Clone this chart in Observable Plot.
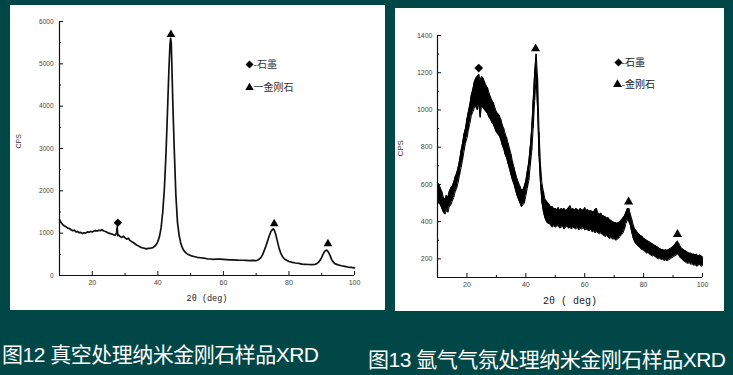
<!DOCTYPE html>
<html><head><meta charset="utf-8">
<script src="https://cdn.jsdelivr.net/npm/d3@7"></script>
<script src="https://cdn.jsdelivr.net/npm/@observablehq/plot@0.6"></script>
<style>
html,body{margin:0;padding:0;}
body{width:733px;height:375px;background:#014747;position:relative;overflow:hidden;font-family:"Liberation Sans","Noto Sans CJK SC",sans-serif;}
.panel{position:absolute;background:#fff;}
#p1{left:10px;top:5px;width:375px;height:305px;}
#p2{left:395px;top:8px;width:329px;height:303px;}
.cap{position:absolute;color:#fff;font-size:21px;letter-spacing:-0.5px;white-space:nowrap;line-height:1;font-family:"Liberation Sans","Noto Sans CJK SC",sans-serif;}
#c1{left:2px;top:344px;}
#c2{left:368px;top:349px;}
</style></head>
<body>
<div class="panel" id="p1"></div>
<div class="panel" id="p2"></div>
<div class="cap" id="c1"></div>
<div class="cap" id="c2"></div>
<script>
// ---------- data: chart 1 (vacuum) ----------
const theta1 = [10,10.5,11,11.5,12,12.5,13,13.5,14,14.5,15,15.5,16,16.5,17,17.5,18,18.5,19,19.5,20,20.5,21,21.5,22,22.5,23,23.5,24,24.5,25,25.5,26,26.5,27,27.4,27.6,27.8,28,28.5,29,29.5,30,30.5,31,31.5,32,32.5,33,33.5,34,34.5,35,35.5,36,36.5,37,37.5,38,38.5,39,39.5,40,40.5,41,41.5,42,42.5,43,43.4,43.7,43.9,44.1,44.3,44.6,45,45.5,46,46.5,47,47.5,48,48.5,49,49.5,50,51,52,53,54,55,56,57,58,59,60,61,62,63,64,65,66,67,68,69,70,70.5,71,71.5,72,72.5,73,73.5,74,74.5,75,75.3,75.6,76,76.5,77,77.5,78,78.5,79,80,81,82,83,84,85,86,87,88,88.5,89,89.5,90,90.5,91,91.5,92,92.5,93,93.5,94,95,96,97,98,99,100];
const cps1 = [1320,1250,1200,1170,1150,1120,1110,1080,1060,1070,1030,1040,1010,1020,990,1010,1000,1030,1020,1040,1030,1050,1060,1050,1070,1060,1080,1050,1040,1020,1000,990,980,960,950,1000,1150,940,960,920,900,930,890,860,880,830,800,780,750,720,700,680,660,650,640,630,640,640,650,660,690,730,800,920,1130,1500,2050,2900,4000,4900,5450,5600,5500,4900,4000,3000,1900,1250,950,760,650,580,540,510,490,470,450,430,420,410,395,390,380,390,385,380,375,370,370,365,360,360,355,350,355,350,365,390,430,500,600,700,820,940,1040,1090,1100,1060,960,800,640,530,450,400,370,330,310,295,285,270,265,260,255,265,280,310,360,430,520,580,600,560,480,380,320,280,250,230,215,200,190,180];
const graphite1Theta = [27.8];
const graphite1Cps = [1245];
const diamond1Theta = [44.0, 75.5, 91.9];
const diamond1Cps = [5693, 1221, 749];
const xDomain1 = [10, 100];
const yDomain1 = [0, 6000];
const xMajor1 = [20, 40, 60, 80, 100];
const xMinor1 = [30, 50, 70, 90];
const yMajor1 = [0, 1000, 2000, 3000, 4000, 5000, 6000];
const yMinor1 = [500, 1500, 2500, 3500, 4500, 5500];

// ---------- data: chart 2 (argon) ----------
const theta2 = [
 10,10.5,11,11.5,12,12.5,13,13.5,14,14.5,
 15,15.5,16,16.5,17,17.5,18,18.5,19,19.5,
 20,20.5,21,21.5,22,22.5,23,23.5,24,24.5,
 25,25.5,26,26.5,27,27.5,28,28.5,29,29.5,
 30,30.5,31,31.5,32,32.5,33,33.5,34,34.5,
 35,35.5,36,36.5,37,37.5,38,38.5,39,39.5,
 40,40.5,41,41.5,42,42.5,43,43.5,44,44.5,
 45,45.5,46,46.5,47,47.5,48,48.5,49,49.5,
 50,50.5,51,51.5,52,52.5,53,53.5,54,54.5,
 55,55.5,56,56.5,57,57.5,58,58.5,59,59.5,
 60,60.5,61,61.5,62,62.5,63,63.5,64,64.5,
 65,65.5,66,66.5,67,67.5,68,68.5,69,69.5,
 70,70.5,71,71.5,72,72.5,73,73.5,74,74.5,
 75,75.5,76,76.5,77,77.5,78,78.5,79,79.5,
 80,80.5,81,81.5,82,82.5,83,83.5,84,84.5,
 85,85.5,86,86.5,87,87.5,88,88.5,89,89.5,
 90,90.5,91,91.5,92,92.5,93,93.5,94,94.5,
 95,95.5,96,96.5,97,97.5,98,98.5,99,99.5,
 100];
const low2 = [
 520,500,490,470,450,440,460,450,480,490,
 510,530,560,580,610,650,690,730,780,820,
 850,890,930,970,990,1010,1020,1000,1040,960,
 1030,1010,1000,990,980,960,950,930,920,900,
 880,870,860,840,810,790,760,740,710,680,
 650,620,600,570,540,520,500,480,490,500,
 540,580,620,700,780,900,1050,1180,1000,750,
 600,500,450,420,400,390,390,380,370,380,
 370,375,380,365,370,375,360,370,375,365,
 370,360,370,365,360,370,355,365,360,370,
 355,360,355,350,360,345,350,340,345,340,
 335,340,330,325,320,325,315,310,315,305,
 310,300,305,310,320,330,340,360,390,410,
 400,380,340,310,290,280,270,265,255,250,
 245,240,230,235,225,220,215,220,210,205,
 200,205,195,200,190,195,190,195,200,205,
 210,215,220,225,220,205,200,190,185,180,
 175,180,170,175,165,170,160,165,170,160,
 165];
const high2 = [
 610,600,580,560,530,520,540,530,560,580,
 590,610,640,660,690,730,780,820,870,900,
 950,990,1030,1080,1110,1150,1170,1180,1190,1160,
 1180,1170,1150,1130,1120,1090,1070,1050,1040,1010,
 990,980,970,950,920,900,870,850,820,790,
 760,720,690,660,630,610,590,570,570,590,
 620,670,720,800,900,1050,1200,1300,1170,880,
 700,600,560,520,510,500,490,480,480,470,
 470,465,475,460,470,465,470,460,465,475,
 485,465,470,460,470,465,460,470,465,460,
 475,460,465,455,460,455,450,465,470,445,
 440,445,430,430,425,420,420,410,405,400,
 395,395,390,395,400,410,420,430,450,470,
 470,440,410,380,360,350,340,330,325,320,
 310,305,300,295,290,285,280,275,270,265,
 260,255,250,250,245,250,245,250,255,260,
 265,275,285,295,280,265,255,250,245,240,
 235,230,230,225,225,220,225,215,220,215,
 210];
const graphite2Theta = [24.0];
const graphite2Cps = [1225];
const diamond2Theta = [43.3, 74.9, 91.5];
const diamond2Cps = [1329, 507, 332];
const xDomain2 = [10, 100];
const yDomain2 = [100, 1400];
const xMajor2 = [20, 40, 60, 80, 100];
const xMinor2 = [30, 50, 70, 90];
const yMajor2 = [200, 400, 600, 800, 1000, 1200, 1400];
const yMinor2 = [300, 500, 700, 900, 1100, 1300];

// ---------- texts ----------
const yTitle = "CPS";
const xTitle1 = "2θ (deg)";
const xTitle2 = "2θ ( deg)";
const legend1 = ["-石墨", "一金刚石"];
const legend2 = ["-石墨", "-金刚石"];
const caption1 = "图12 真空处理纳米金刚石样品XRD";
const caption2 = "图13 氩气气氛处理纳米金刚石样品XRD";

function axesMarks(cfg) {
  const pw = cfg.width - cfg.ml - cfg.mr;
  const ph = cfg.height - cfg.mt - cfg.mb;
  return [
    Plot.ruleX([cfg.xDomain[0]], {stroke: "#111", strokeWidth: 1.2}),
    Plot.ruleY([cfg.yDomain[0]], {stroke: "#111", strokeWidth: 1.2}),
    Plot.tickX(cfg.xMajor, {x: d => d, insetTop: ph - 4, stroke: "#111"}),
    Plot.tickX(cfg.xMinor, {x: d => d, insetTop: ph - 2, stroke: "#111"}),
    Plot.tickY(cfg.yMajor, {y: d => d, insetRight: pw - 4, stroke: "#111"}),
    Plot.tickY(cfg.yMinor, {y: d => d, insetRight: pw - 2, stroke: "#111"}),
    Plot.axisX({ticks: cfg.xMajor, tickSize: 0, tickPadding: 5, fontSize: cfg.xfs, label: null, tickFormat: d => String(d), fill: "#444"}),
    Plot.axisY({ticks: cfg.yMajor, tickSize: 0, tickPadding: cfg.ypad, fontSize: cfg.yfs, label: null, tickFormat: d => String(d), fill: "#444"}),
    Plot.text([yTitle], {frameAnchor: "left", dx: cfg.ytdx, rotate: -90, fontSize: cfg.ytfs, fill: "#333"}),
    Plot.text([cfg.xTitle], {frameAnchor: "bottom", dy: cfg.xtdy, fontSize: cfg.xtfs, fontFamily: "Liberation Mono, monospace", fill: "#222"})
  ];
}

// ---------- chart 1 ----------
const d1 = theta1.map((x, i) => ({x, y: cps1[i]}));
const cfg1 = {width: 375, height: 305, ml: 49, mr: 31, mt: 16, mb: 35, xDomain: xDomain1, yDomain: yDomain1,
  xMajor: xMajor1, xMinor: xMinor1, yMajor: yMajor1, yMinor: yMinor1, xfs: 7, yfs: 6.5, ypad: 6,
  ytdx: -41, ytfs: 7, xTitle: xTitle1, xtdy: 25, xtfs: 8.5};
const chart1 = Plot.plot({
  width: cfg1.width, height: cfg1.height,
  marginLeft: cfg1.ml, marginRight: cfg1.mr, marginTop: cfg1.mt, marginBottom: cfg1.mb,
  x: {domain: xDomain1}, y: {domain: yDomain1},
  style: {fontFamily: "Liberation Sans, sans-serif", color: "#444", background: "transparent", overflow: "visible"},
  marks: [
    Plot.line(d1, {x: "x", y: "y", stroke: "#111", strokeWidth: 1.7}),
    ...axesMarks(cfg1),
    Plot.dot(graphite1Theta.map((x, i) => ({x, y: graphite1Cps[i]})), {x: "x", y: "y", symbol: "diamond2", r: 3.8, fill: "#000", stroke: "none"}),
    Plot.dot(diamond1Theta.map((x, i) => ({x, y: diamond1Cps[i]})), {x: "x", y: "y", symbol: "triangle", r: 3.2, fill: "#000", stroke: "none"}),
    Plot.dot([legend1[0]], {x: null, y: null, frameAnchor: "top-left", dx: 190, dy: 43, symbol: "diamond2", r: 3.6, fill: "#000", stroke: "none"}),
    Plot.dot([legend1[1]], {x: null, y: null, frameAnchor: "top-left", dx: 190, dy: 66, symbol: "triangle", r: 3.1, fill: "#000", stroke: "none"}),
    Plot.text([legend1[0]], {frameAnchor: "top-left", dx: 194, dy: 43, lineAnchor: "middle", textAnchor: "start", fontSize: 10, fill: "#333", fontFamily: "Noto Sans CJK SC, sans-serif"}),
    Plot.text([legend1[1]], {frameAnchor: "top-left", dx: 194, dy: 66, lineAnchor: "middle", textAnchor: "start", fontSize: 10, fill: "#333", fontFamily: "Noto Sans CJK SC, sans-serif"})
  ]
});
document.getElementById("p1").append(chart1);

// ---------- chart 2 ----------
const d2 = theta2.map((x, i) => ({x, lo: low2[i], hi: high2[i]}));
const cfg2 = {width: 329, height: 303, ml: 42, mr: 22, mt: 27, mb: 34, xDomain: xDomain2, yDomain: yDomain2,
  xMajor: xMajor2, xMinor: xMinor2, yMajor: yMajor2, yMinor: yMinor2, xfs: 7, yfs: 7, ypad: 5,
  ytdx: -37, ytfs: 8, xTitle: xTitle2, xtdy: 26, xtfs: 10};
const chart2 = Plot.plot({
  width: cfg2.width, height: cfg2.height,
  marginLeft: cfg2.ml, marginRight: cfg2.mr, marginTop: cfg2.mt, marginBottom: cfg2.mb,
  x: {domain: xDomain2}, y: {domain: yDomain2},
  style: {fontFamily: "Liberation Sans, sans-serif", color: "#444", background: "transparent", overflow: "visible"},
  marks: [
    Plot.areaY(d2, {x: "x", y1: "lo", y2: "hi", fill: "#000"}),
    Plot.ruleX(d2, {x: "x", y1: "lo", y2: "hi", stroke: "#000", strokeWidth: 1}),
    Plot.line(d2, {x: "x", y: "lo", stroke: "#000", strokeWidth: 1}),
    Plot.line(d2, {x: "x", y: "hi", stroke: "#000", strokeWidth: 1}),
    ...axesMarks(cfg2),
    Plot.dot(graphite2Theta.map((x, i) => ({x, y: graphite2Cps[i]})), {x: "x", y: "y", symbol: "diamond2", r: 3.9, fill: "#000", stroke: "none"}),
    Plot.dot(diamond2Theta.map((x, i) => ({x, y: diamond2Cps[i]})), {x: "x", y: "y", symbol: "triangle", r: 3.4, fill: "#000", stroke: "none"}),
    Plot.dot([legend2[0]], {x: null, y: null, frameAnchor: "top-left", dx: 181, dy: 27, symbol: "diamond2", r: 3.7, fill: "#000", stroke: "none"}),
    Plot.dot([legend2[1]], {x: null, y: null, frameAnchor: "top-left", dx: 180, dy: 49, symbol: "triangle", r: 3.3, fill: "#000", stroke: "none"}),
    Plot.text([legend2[0]], {frameAnchor: "top-left", dx: 184, dy: 27, lineAnchor: "middle", textAnchor: "start", fontSize: 10, fill: "#222", fontFamily: "Noto Sans CJK SC, sans-serif"}),
    Plot.text([legend2[1]], {frameAnchor: "top-left", dx: 184, dy: 49, lineAnchor: "middle", textAnchor: "start", fontSize: 10, fill: "#222", fontFamily: "Noto Sans CJK SC, sans-serif"})
  ]
});
document.getElementById("p2").append(chart2);

document.getElementById("c1").textContent = caption1;
document.getElementById("c2").textContent = caption2;
</script>
</body></html>
